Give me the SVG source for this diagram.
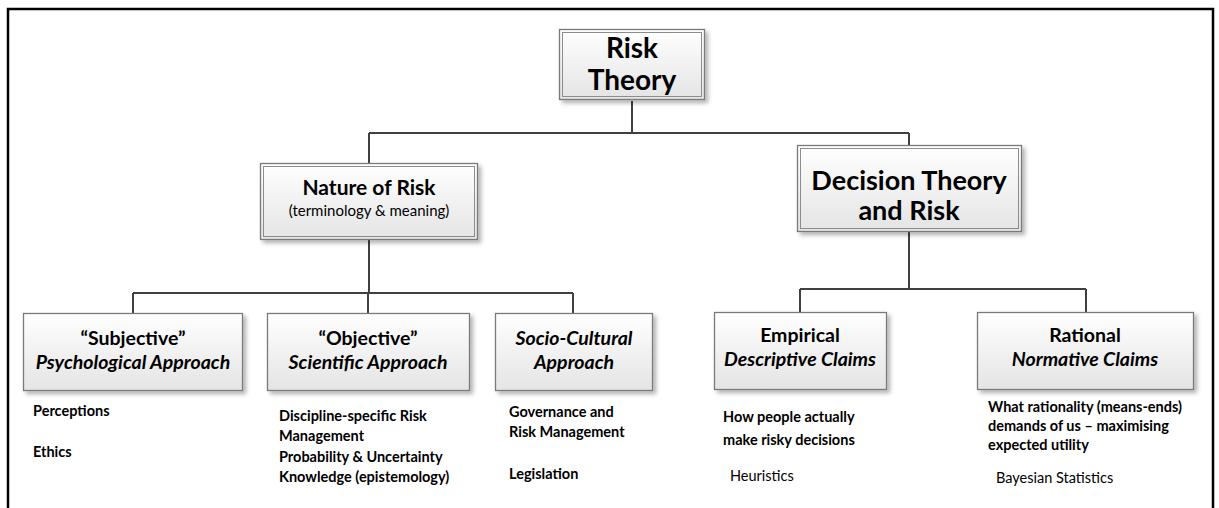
<svg xmlns="http://www.w3.org/2000/svg" width="1219" height="508" viewBox="0 0 1219 508">
  <defs>
    <linearGradient id="boxFill" x1="0" y1="0" x2="0" y2="1">
      <stop offset="0" stop-color="#ffffff"/>
      <stop offset="1" stop-color="#e4e4e4"/>
    </linearGradient>
    <filter id="shadow" x="-10%" y="-10%" width="125%" height="130%">
      <feDropShadow dx="3" dy="3" stdDeviation="2" flood-color="#000" flood-opacity="0.3"/>
    </filter>
    <style>
      .box { fill: url(#boxFill); stroke: #7a7a7a; stroke-width: 1.3; }
      .inner { fill: none; stroke: #8c8c8c; stroke-width: 1; }
      .wire { fill: none; stroke: #404040; stroke-width: 2; }
      .frame { fill: none; stroke: #000; stroke-width: 2.5; }
      text { font-family: Lato, "Liberation Sans", sans-serif; fill: #000; }
      .title { font-weight: bold; text-anchor: middle; }
      .sub { text-anchor: middle; font-size: 15px; }
      .bi { font-weight: bold; font-style: italic; }
      .note { font-weight: bold; font-size: 14.5px; }
      .plain { font-size: 14.5px; }
    </style>
  </defs>

  <!-- outer frame, open at the bottom -->
  <path class="frame" d="M8,508 V9 H1213 V508"/>

  <!-- connectors -->
  <g id="connectors">
    <path class="wire" d="M632,101 V133 M369,133 H909 M369,133 V163 M909,133 V145"/>
    <path class="wire" d="M369,240 V293 M133,293 H573 M133,293 V313 M368,293 V313 M573,293 V313"/>
    <path class="wire" d="M909,232 V289 M800,289 H1086 M800,289 V312 M1086,289 V312"/>
  </g>

  <!-- top level -->
  <g id="risk-theory">
    <rect class="box" x="559.5" y="29.5" width="145" height="70" filter="url(#shadow)"/>
    <rect class="inner" x="562.5" y="32.5" width="139" height="64"/>
    <text class="title" x="632" y="58" font-size="28">Risk</text>
    <text class="title" x="632" y="90" font-size="28">Theory</text>
  </g>

  <!-- second level -->
  <g id="nature-of-risk">
    <rect class="box" x="260.5" y="163.5" width="217" height="76" filter="url(#shadow)"/>
    <rect class="inner" x="263.5" y="166.5" width="211" height="70"/>
    <text class="title" x="369" y="195" font-size="21">Nature of Risk</text>
    <text class="sub" x="369" y="216">(terminology &amp; meaning)</text>
  </g>

  <g id="decision-theory">
    <rect class="box" x="797.5" y="145.5" width="224" height="86" filter="url(#shadow)"/>
    <rect class="inner" x="800.5" y="148.5" width="218" height="80"/>
    <text class="title" x="909" y="190" font-size="27">Decision Theory</text>
    <text class="title" x="909" y="220" font-size="27">and Risk</text>
  </g>

  <!-- third level -->
  <g id="subjective">
    <rect class="box" x="23.5" y="313.5" width="219" height="77" filter="url(#shadow)"/>
    <text class="title" x="133" y="345" font-size="19.5">“Subjective”</text>
    <text class="title bi" x="133" y="369" font-size="19.5">Psychological Approach</text>
    <text class="note" x="33" y="416">Perceptions</text>
    <text class="note" x="33" y="457">Ethics</text>
  </g>

  <g id="objective">
    <rect class="box" x="267.5" y="313.5" width="202" height="77" filter="url(#shadow)"/>
    <text class="title" x="368" y="345" font-size="19.5">“Objective”</text>
    <text class="title bi" x="368" y="369" font-size="19.5">Scientific Approach</text>
    <text class="note" x="279" y="421">Discipline-specific Risk</text>
    <text class="note" x="279" y="441">Management</text>
    <text class="note" x="279" y="462">Probability &amp; Uncertainty</text>
    <text class="note" x="279" y="482">Knowledge (epistemology)</text>
  </g>

  <g id="socio-cultural">
    <rect class="box" x="495.5" y="313.5" width="157" height="77" filter="url(#shadow)"/>
    <text class="title bi" x="574" y="345" font-size="19.5">Socio-Cultural</text>
    <text class="title bi" x="574" y="369" font-size="19.5">Approach</text>
    <text class="note" x="509" y="417">Governance and</text>
    <text class="note" x="509" y="437">Risk Management</text>
    <text class="note" x="509" y="479">Legislation</text>
  </g>

  <g id="empirical">
    <rect class="box" x="714.5" y="312.5" width="172" height="77" filter="url(#shadow)"/>
    <text class="title" x="800" y="342" font-size="19.5">Empirical</text>
    <text class="title bi" x="800" y="366" font-size="19.5">Descriptive Claims</text>
    <text class="note" x="723" y="422">How people actually</text>
    <text class="note" x="723" y="445">make risky decisions</text>
    <text class="plain" x="730" y="481">Heuristics</text>
  </g>

  <g id="rational">
    <rect class="box" x="977.5" y="312.5" width="216" height="77" filter="url(#shadow)"/>
    <text class="title" x="1085" y="342" font-size="19.5">Rational</text>
    <text class="title bi" x="1085" y="366" font-size="19.5">Normative Claims</text>
    <text class="note" x="988" y="412">What rationality (means-ends)</text>
    <text class="note" x="988" y="431">demands of us – maximising</text>
    <text class="note" x="988" y="450">expected utility</text>
    <text class="plain" x="996" y="483">Bayesian Statistics</text>
  </g>
</svg>
